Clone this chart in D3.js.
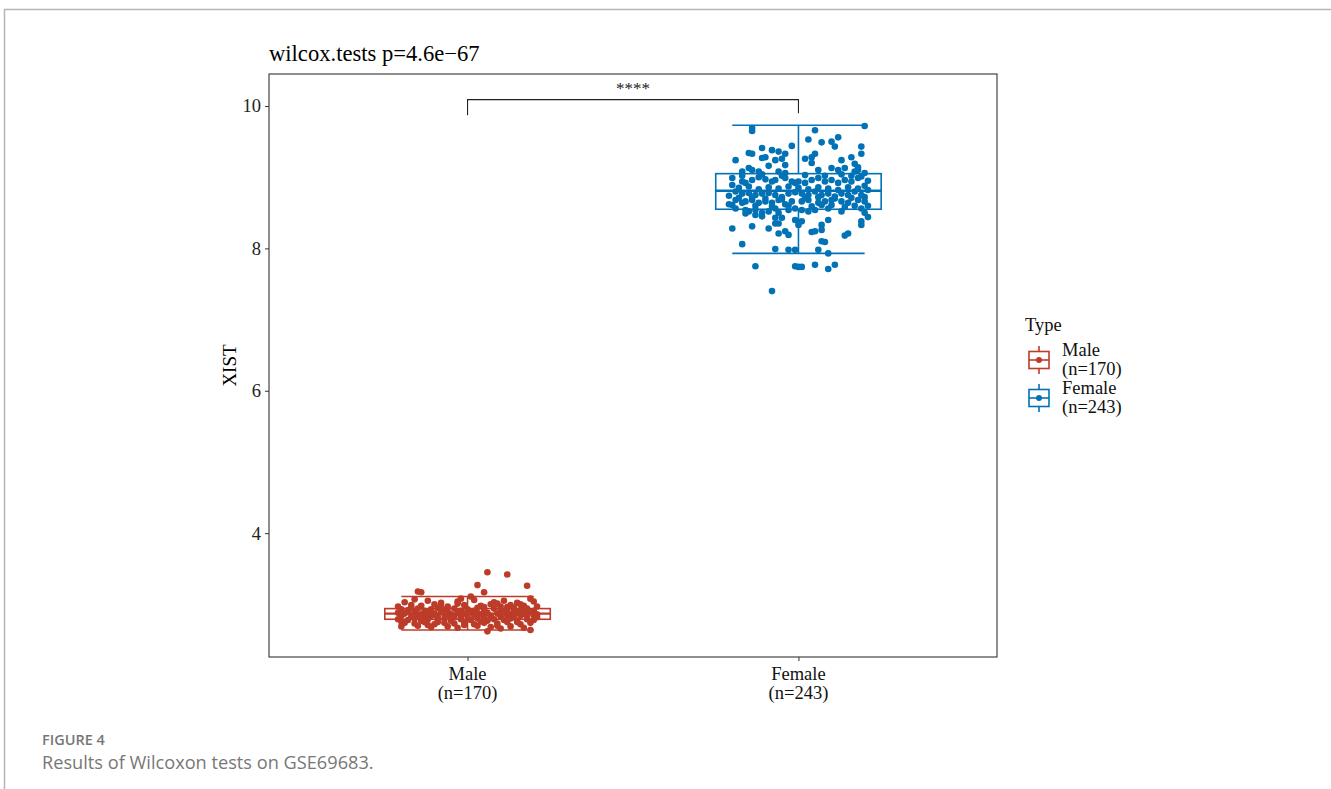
<!DOCTYPE html>
<html lang="en">
<head>
<meta charset="utf-8" />
<title>XIST by Type</title>
<script src="https://d3js.org/d3.v7.min.js"></script>
<style>
  body { margin: 0; background: #fff; }
  svg text { font-family: "Liberation Serif", "Times New Roman", serif; }
  .caption text { font-family: "Open Sans", "Noto Sans", sans-serif; }
</style>
</head>
<body>
<svg id="chart" width="1331" height="789"></svg>
<script>
// categories and box stats
var groups = ["Male", "Female"];
var groupLabels = ["(n=170)", "(n=243)"];
var colors = ["#BC3C29", "#0072B5"];
var boxStats = [
  { lo: 2.64, q1: 2.79, med: 2.87, q3: 2.94, hi: 3.11 },
  { lo: 7.93, q1: 8.55, med: 8.81, q3: 9.05, hi: 9.73 }
];
var yTicks = [4, 6, 8, 10];

// jittered points: [offset in category units, XIST]
var malePoints = [
  [0.06,3.45],[0.12,3.42],[0.03,3.27],[0.18,3.26],[0.05,3.17],[-0.15,3.18],[-0.14,3.17],[0.01,3.11],[0.06,2.62],[0.19,2.64],
  [-0.19,3.03],[-0.12,3.05],[-0.08,3.02],[-0.03,3.04],[0.02,3.06],[0.08,3.03],[0.11,3.05],[0.15,3.02],[0.20,3.04],[-0.16,3.07],
  [-0.21,2.97],[-0.17,2.99],[-0.14,2.98],[-0.10,3.00],[-0.06,2.97],[-0.01,2.99],[0.04,2.98],[0.07,3.00],[0.10,2.97],[0.13,2.99],[0.17,2.98],[0.21,2.97],
  [-0.20,2.93],[-0.18,2.92],[-0.15,2.94],[-0.13,2.91],[-0.11,2.93],[-0.09,2.95],[-0.07,2.92],[-0.04,2.94],[-0.02,2.91],[0.00,2.93],[0.03,2.95],[0.05,2.92],[0.08,2.94],[0.10,2.91],[0.12,2.93],[0.14,2.95],[0.16,2.92],[0.18,2.94],[0.20,2.91],
  [-0.21,2.88],[-0.19,2.87],[-0.16,2.89],[-0.14,2.86],[-0.12,2.88],[-0.10,2.87],[-0.08,2.89],[-0.05,2.86],[-0.03,2.88],[-0.01,2.87],[0.01,2.89],[0.04,2.86],[0.06,2.88],[0.09,2.87],[0.11,2.89],[0.13,2.86],[0.15,2.88],[0.17,2.87],[0.19,2.89],[0.21,2.86],
  [-0.20,2.84],[-0.17,2.83],[-0.15,2.85],[-0.13,2.82],[-0.11,2.84],[-0.09,2.83],[-0.06,2.85],[-0.04,2.82],[-0.02,2.84],[0.00,2.83],[0.02,2.85],[0.05,2.82],[0.07,2.84],[0.10,2.83],[0.12,2.85],[0.14,2.82],[0.16,2.84],[0.18,2.83],[0.20,2.85],
  [-0.21,2.79],[-0.18,2.78],[-0.16,2.80],[-0.14,2.77],[-0.12,2.79],[-0.09,2.78],[-0.07,2.80],[-0.05,2.77],[-0.02,2.79],[0.01,2.78],[0.03,2.80],[0.06,2.77],[0.08,2.79],[0.11,2.78],[0.13,2.80],[0.15,2.77],[0.18,2.79],[0.20,2.78],
  [-0.19,2.74],[-0.16,2.73],[-0.13,2.75],[-0.10,2.72],[-0.07,2.74],[-0.04,2.73],[-0.01,2.75],[0.02,2.72],[0.05,2.74],[0.09,2.73],[0.12,2.75],[0.16,2.72],[0.19,2.74],
  [-0.20,2.69],[-0.15,2.70],[-0.11,2.68],[-0.06,2.69],[-0.03,2.67],[0.03,2.70],[0.07,2.68],[0.13,2.69],[0.17,2.67],
  [-0.08,2.96],[0.09,3.01],[-0.18,2.90],[0.14,2.90],[-0.05,2.81],[0.04,2.76],[-0.12,2.71],[0.10,2.66],[0.19,3.08],[-0.02,3.08],
  [-0.17,2.95],[-0.06,2.90],[0.02,2.91],[0.12,2.96],[-0.14,2.81],[0.07,2.81],[-0.09,2.75],[0.15,2.75],[-0.01,2.71],[0.09,2.70],
  [-0.20,2.76],[0.21,2.82],[-0.03,3.01],[0.16,3.00],[-0.10,2.85],[0.03,2.87],[0.17,2.90],[-0.16,2.86],[0.05,2.96],[-0.07,2.87]
];
var femalePoints = [
  [-0.14,9.69],[-0.14,9.65],[0.20,9.72],[0.05,9.66],[0.03,9.53],[0.07,9.49],[0.10,9.50],[0.12,9.56],[0.11,9.43],[0.19,9.43],[0.19,9.33],
  [-0.11,9.41],[-0.15,9.34],[-0.14,9.33],[-0.08,9.38],[-0.06,9.36],[-0.04,9.33],[-0.02,9.44],
  [-0.11,9.27],[-0.10,9.28],[-0.19,9.24],[-0.07,9.24],[-0.05,9.26],[-0.09,9.16],[-0.04,9.17],
  [-0.15,9.13],[-0.14,9.10],[-0.17,9.08],[-0.12,9.08],[-0.06,9.08],[-0.04,9.06],
  [0.05,9.33],[0.04,9.28],[0.02,9.26],[0.04,9.20],[0.13,9.24],[0.16,9.28],[0.17,9.19],[0.18,9.14],
  [0.06,9.10],[0.10,9.13],[0.12,9.10],[0.14,9.13],[0.17,9.08],[0.18,9.10],[0.20,9.06],
  [-0.20,8.99],[-0.20,8.89],[-0.17,8.94],[-0.16,8.92],[-0.14,8.96],[-0.12,9.00],[-0.10,8.97],[-0.08,8.94],[-0.07,8.96],[-0.04,8.99],[-0.02,8.94],[-0.01,8.92],
  [-0.19,8.80],[-0.17,8.77],[-0.15,8.78],[-0.13,8.75],[-0.11,8.77],[-0.09,8.78],[-0.07,8.75],[-0.05,8.72],[-0.03,8.77],[-0.01,8.79],
  [-0.19,8.68],[-0.17,8.64],[-0.16,8.66],[-0.14,8.68],[-0.12,8.64],[-0.10,8.66],[-0.08,8.64],[-0.06,8.68],[-0.04,8.62],[-0.02,8.66],
  [-0.19,8.56],[-0.16,8.54],[-0.15,8.52],[-0.13,8.54],[-0.11,8.50],[-0.09,8.52],[-0.07,8.56],[-0.06,8.50],[-0.03,8.54],[-0.01,8.56],
  [-0.16,8.49],[-0.13,8.47],[-0.11,8.45],[-0.07,8.43],[-0.05,8.43],[-0.01,8.40],
  [0.00,8.94],[0.02,8.92],[0.04,8.96],[0.06,8.99],[0.08,8.94],[0.10,8.96],[0.12,8.92],[0.14,8.96],[0.16,8.94],[0.18,8.99],[0.19,9.01],
  [0.01,8.77],[0.03,8.75],[0.05,8.80],[0.07,8.75],[0.09,8.77],[0.11,8.73],[0.13,8.77],[0.15,8.75],[0.17,8.80],[0.19,8.75],
  [0.01,8.66],[0.03,8.68],[0.06,8.64],[0.08,8.66],[0.10,8.68],[0.13,8.66],[0.15,8.64],[0.18,8.68],[0.20,8.66],
  [0.01,8.54],[0.03,8.52],[0.05,8.54],[0.07,8.61],[0.09,8.56],[0.13,8.52],[0.19,8.56],
  [0.01,8.38],[0.00,8.33],[0.07,8.33],[0.07,8.26],[0.09,8.40],[0.19,8.38],[0.19,8.33],[0.05,8.24],[0.04,8.23],[0.15,8.21],[0.14,8.18],
  [0.07,8.10],[0.08,8.09],[0.06,7.98],[0.09,7.93],[0.01,7.74],[0.05,7.77],[0.09,7.71],[0.11,7.77],
  [-0.07,8.35],[-0.06,8.35],[-0.20,8.28],[-0.14,8.31],[-0.09,8.28],[-0.06,8.21],[-0.04,8.24],[-0.03,8.19],
  [-0.17,8.06],[-0.07,7.99],[-0.03,7.98],[-0.01,7.98],[-0.13,7.75],[-0.01,7.75],[0.00,7.74],[-0.08,7.40],
  [-0.18,8.85],[-0.15,8.87],[-0.12,8.83],[-0.09,8.86],[-0.06,8.84],[-0.03,8.87],[0.00,8.85],[0.03,8.83],[0.06,8.86],[0.09,8.84],[0.12,8.82],[0.15,8.86],[0.18,8.84],[0.20,8.88],
  [-0.18,8.71],[-0.14,8.72],[-0.10,8.70],[-0.05,8.69],[0.02,8.71],[0.06,8.72],[0.11,8.70],[0.16,8.71],[0.20,8.72],
  [-0.20,8.61],[-0.13,8.60],[-0.08,8.59],[-0.03,8.60],[0.04,8.59],[0.10,8.61],[0.14,8.58],[0.17,8.60],
  [-0.17,9.02],[-0.11,9.04],[-0.05,9.02],[0.02,9.03],[0.08,9.02],[0.13,9.04],[0.16,9.02],[0.21,8.95],[0.21,8.82],[0.21,8.60],[0.20,8.50],[0.21,8.44],[-0.21,8.74],[-0.21,8.62]
];
var pointSets = [malePoints, femalePoints];

var svg = d3.select("#chart");
var panel = { left: 269, right: 997, top: 74, bottom: 657 };

var x = d3.scalePoint().domain(groups).range([panel.left, panel.right]).padding(0.6);
var y = d3.scaleLinear().domain([2.26, 10.45]).range([panel.bottom, panel.top]);
var step = x.step();

// figure frame lines
svg.append("line").attr("x1", 4).attr("x2", 1331).attr("y1", 9.5).attr("y2", 9.5)
  .attr("stroke", "#b5b5b5").attr("stroke-width", 1.5);
svg.append("line").attr("x1", 4.5).attr("x2", 4.5).attr("y1", 9).attr("y2", 789)
  .attr("stroke", "#b5b5b5").attr("stroke-width", 1.5);

// title
svg.append("text").attr("x", 269).attr("y", 61).attr("font-size", 22.6).attr("fill", "#000")
  .text("wilcox.tests p=4.6e\u221267");

// boxes
groups.forEach(function(g, i) {
  var s = boxStats[i], cx = x(g), c = colors[i];
  var gg = svg.append("g");
  var bw = 0.25 * step, cw = 0.2 * step;
  gg.append("line").attr("x1", cx).attr("x2", cx).attr("y1", y(s.hi)).attr("y2", y(s.q3)).attr("stroke", c).attr("stroke-width", 1.6);
  gg.append("line").attr("x1", cx).attr("x2", cx).attr("y1", y(s.q1)).attr("y2", y(s.lo)).attr("stroke", c).attr("stroke-width", 1.6);
  gg.append("line").attr("x1", cx - cw).attr("x2", cx + cw).attr("y1", y(s.hi)).attr("y2", y(s.hi)).attr("stroke", c).attr("stroke-width", 1.6);
  gg.append("line").attr("x1", cx - cw).attr("x2", cx + cw).attr("y1", y(s.lo)).attr("y2", y(s.lo)).attr("stroke", c).attr("stroke-width", 1.6);
  gg.append("rect").attr("x", cx - bw).attr("width", 2 * bw).attr("y", y(s.q3)).attr("height", y(s.q1) - y(s.q3))
    .attr("fill", "none").attr("stroke", c).attr("stroke-width", 1.6);
  gg.append("line").attr("x1", cx - bw).attr("x2", cx + bw).attr("y1", y(s.med)).attr("y2", y(s.med)).attr("stroke", c).attr("stroke-width", 2.4);
});

// jitter points
groups.forEach(function(g, i) {
  svg.append("g").selectAll("circle").data(pointSets[i]).join("circle")
    .attr("cx", function(d) { return x(g) + d[0] * step; })
    .attr("cy", function(d) { return y(d[1]); })
    .attr("r", 3.3)
    .attr("fill", colors[i]);
});

// panel border
svg.append("rect").attr("x", panel.left).attr("y", panel.top)
  .attr("width", panel.right - panel.left).attr("height", panel.bottom - panel.top)
  .attr("fill", "none").attr("stroke", "#333").attr("stroke-width", 1.1);

// y axis
var yAxis = svg.append("g").attr("transform", "translate(" + panel.left + ",0)")
  .call(d3.axisLeft(y).tickValues(yTicks).tickSize(4).tickPadding(4));
yAxis.select(".domain").remove();
yAxis.selectAll(".tick line").attr("stroke", "#333");
yAxis.selectAll(".tick text").attr("font-size", 18.5).attr("fill", "#222")
  .attr("font-family", "Liberation Serif, serif");

// x axis
var xAxis = svg.append("g").attr("transform", "translate(0," + panel.bottom + ")")
  .call(d3.axisBottom(x).tickSize(4).tickFormat(""));
xAxis.select(".domain").remove();
xAxis.selectAll(".tick line").attr("stroke", "#333");
groups.forEach(function(g, i) {
  svg.append("text").attr("x", x(g)).attr("y", 680).attr("text-anchor", "middle")
    .attr("font-size", 18.5).attr("fill", "#111").text(g);
  svg.append("text").attr("x", x(g)).attr("y", 699).attr("text-anchor", "middle")
    .attr("font-size", 18.5).attr("fill", "#111").text(groupLabels[i]);
});

// y label
svg.append("text").attr("transform", "translate(236," + ((panel.top + panel.bottom) / 2) + ") rotate(-90)")
  .attr("text-anchor", "middle").attr("font-size", 19).attr("fill", "#000").text("XIST");

// significance bracket
var yb = y(10.09);
svg.append("path")
  .attr("d", "M" + x("Male") + "," + y(9.87) + "V" + yb + "H" + x("Female") + "V" + y(9.9))
  .attr("fill", "none").attr("stroke", "#222").attr("stroke-width", 1.1);
svg.append("text").attr("x", (x("Male") + x("Female")) / 2).attr("y", yb - 6)
  .attr("text-anchor", "middle").attr("font-size", 17).attr("fill", "#222").text("****");

// legend
var lg = svg.append("g").attr("transform", "translate(1025,0)");
lg.append("text").attr("x", 0).attr("y", 331).attr("font-size", 18.5).attr("fill", "#111").text("Type");
groups.forEach(function(g, i) {
  var cy = 360 + i * 38, c = colors[i];
  lg.append("line").attr("x1", 14).attr("x2", 14).attr("y1", cy - 14).attr("y2", cy + 14).attr("stroke", c).attr("stroke-width", 1.6);
  lg.append("rect").attr("x", 4).attr("y", cy - 8.5).attr("width", 20).attr("height", 17).attr("fill", "#fff").attr("stroke", c).attr("stroke-width", 1.6);
  lg.append("line").attr("x1", 4).attr("x2", 24).attr("y1", cy).attr("y2", cy).attr("stroke", c).attr("stroke-width", 1.6);
  lg.append("circle").attr("cx", 14).attr("cy", cy).attr("r", 3).attr("fill", c);
  lg.append("text").attr("x", 37).attr("y", cy - 4).attr("font-size", 18.5).attr("fill", "#111").text(g);
  lg.append("text").attr("x", 37).attr("y", cy + 15).attr("font-size", 18.5).attr("fill", "#111").text(groupLabels[i]);
});

// caption
var cap = svg.append("g").attr("class", "caption");
cap.append("text").attr("x", 42).attr("y", 745).attr("font-size", 14.5).attr("font-weight", 600)
  .attr("fill", "#777").text("FIGURE 4");
cap.append("text").attr("x", 42).attr("y", 769).attr("font-size", 18.2)
  .attr("fill", "#777").text("Results of Wilcoxon tests on GSE69683.");
</script>
</body>
</html>
